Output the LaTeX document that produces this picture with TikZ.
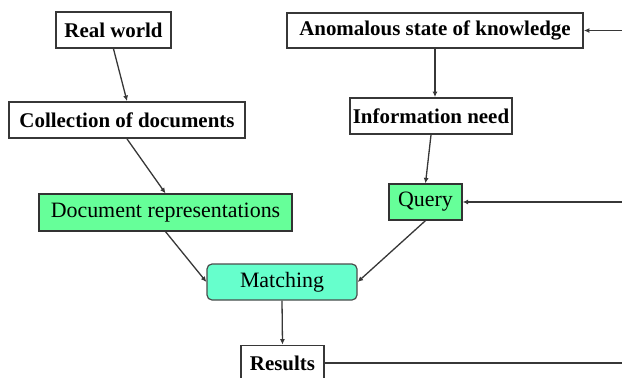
\documentclass[tikz,border=0pt]{standalone}
\usepackage{fontspec}
\setmainfont{Liberation Serif}
\usetikzlibrary{arrows.meta}
\definecolor{docgreen}{RGB}{102,255,153}
\definecolor{matchaqua}{RGB}{102,255,204}
\definecolor{edgegray}{RGB}{55,55,55}
\tikzset{
  plainbox/.style={draw=edgegray, line width=1.8bp, fill=white, inner sep=0pt,
    font=\fontsize{21}{24}\selectfont\bfseries},
  greenbox/.style={draw=black!80, line width=1.2bp, fill=docgreen, inner sep=0pt,
    font=\fontsize{22}{24}\selectfont},
  matchbox/.style={draw=black!70, line width=1.2bp, fill=matchaqua, inner sep=0pt,
    rounded corners=5bp, font=\fontsize{22}{24}\selectfont},
  flow/.style={draw=edgegray, line width=1.3bp, -{Latex[length=5.5bp,width=5bp]}},
  link/.style={draw=edgegray, line width=1.3bp}
}
\begin{document}
\begin{tikzpicture}[x=1bp, y=-1bp]
  \useasboundingbox (0,0) rectangle (622,377);

  % document side
  \node[plainbox, minimum width=115bp, minimum height=36bp] (rw) at (113.5,30) {Real world};
  \node[plainbox, minimum width=236bp, minimum height=36bp] (coll) at (127,120) {Collection of documents};
  \node[greenbox, minimum width=253bp, minimum height=37bp] (docrep) at (165.5,212.5) {Document representations};

  % user side
  \node[plainbox, minimum width=296bp, minimum height=35bp] (anom) at (435,30.5) {Anomalous state of knowledge};
  \node[plainbox, minimum width=162bp, minimum height=36bp] (need) at (431,116) {Information need};
  \node[greenbox, minimum width=73bp, minimum height=36bp] (query) at (425.5,202) {Query};

  % matching and output
  \node[matchbox, minimum width=150bp, minimum height=36bp] (match) at (282,282) {Matching};
  \node[plainbox, minimum width=83bp, minimum height=35bp] (res) at (282.5,363) {Results};

  % feedback lines entering from the right
  \coordinate (fbA) at (622,30.5);
  \coordinate (fbQ) at (622,202);
  \coordinate (fbR) at (622,363);

  \draw[flow] (rw.south) -- (coll.north);
  \draw[flow] (coll.south) -- (docrep.north);
  \draw[flow] (anom.south) -- (anom.south |- need.north);
  \draw[flow] (need.south) -- (query.north);
  \draw[flow] (docrep.south) -- (match.west);
  \draw[flow] (query.south) -- (match.east);
  \draw[flow] (match.south) -- (res.north);
  \draw[flow] (fbA) -- (anom.east);
  \draw[flow] (fbQ) -- (query.east);
  \draw[link] (res.east) -- (fbR);
\end{tikzpicture}
\end{document}
